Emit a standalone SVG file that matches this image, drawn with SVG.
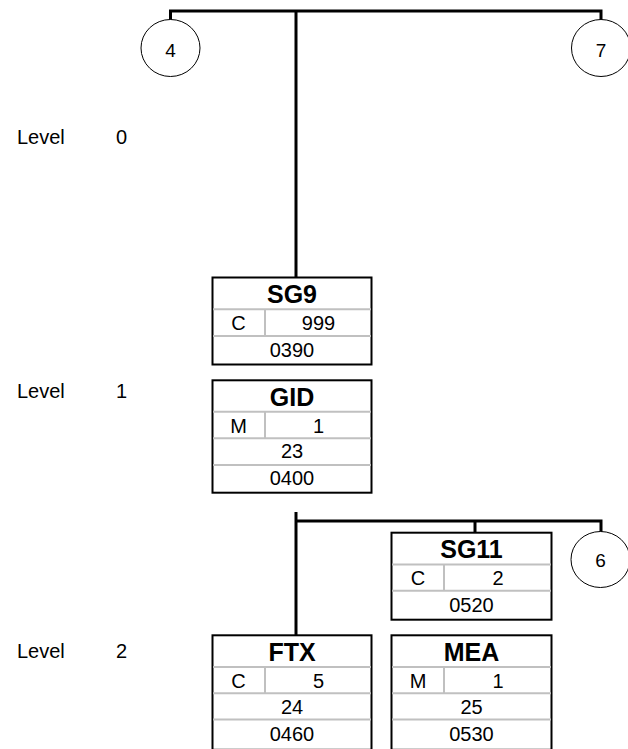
<svg xmlns="http://www.w3.org/2000/svg" width="628" height="749" viewBox="0 0 628 749">
<style>
text{font-family:"Liberation Sans",Arial,sans-serif;font-size:20px;fill:#000}
.h{font-weight:bold;font-size:25px;text-anchor:middle}
.c{text-anchor:middle}
.box{fill:#fff;stroke:#000;stroke-width:2}
.div{stroke:#c0c0c0;stroke-width:2;fill:none}
.conn{stroke:#000;stroke-width:3;fill:none}
.circ{fill:#fff;stroke:#000;stroke-width:1}
.lvl{font-size:20px}
.ct{font-size:19px;text-anchor:middle}
</style>
<g id="levels">
<text class="lvl" x="17" y="144">Level</text><text class="lvl" x="116" y="144">0</text>
<text class="lvl" x="17" y="398">Level</text><text class="lvl" x="116" y="398">1</text>
<text class="lvl" x="17" y="658">Level</text><text class="lvl" x="116" y="658">2</text>
</g>
<g id="connectors">
<polyline class="conn" points="170.5,20 170.5,11 601,11 601,20"/>
<line class="conn" x1="296" y1="11" x2="296" y2="277"/>
<line class="conn" x1="296" y1="512" x2="296" y2="635"/>
<polyline class="conn" points="296,521 601,521 601,532"/>
<line class="conn" x1="475" y1="521" x2="475" y2="532"/>
</g>
<g id="c4"><ellipse class="circ" cx="170.5" cy="48" rx="29.5" ry="28.5"/><text class="ct" x="170.5" y="56.5">4</text></g>
<g id="c7"><ellipse class="circ" cx="601" cy="48" rx="29.5" ry="28.5"/><text class="ct" x="601" y="56.5">7</text></g>
<g id="c6"><ellipse class="circ" cx="600.5" cy="559.5" rx="29.5" ry="28"/><text class="ct" x="600.5" y="566.5">6</text></g>
<g id="SG9">
<rect class="box" x="212.5" y="277.5" width="159" height="87"/>
<line class="div" x1="213" y1="309.3" x2="371" y2="309.3"/>
<line class="div" x1="213" y1="336" x2="371" y2="336"/>
<line class="div" x1="265" y1="309.3" x2="265" y2="336"/>
<text class="h" x="292" y="302.5">SG9</text>
<text class="c" x="238.5" y="330.3">C</text>
<text class="c" x="318.5" y="330.3">999</text>
<text class="c" x="292" y="357">0390</text>
</g>
<g id="GID">
<rect class="box" x="212.5" y="380.3" width="159" height="112.4"/>
<line class="div" x1="213" y1="411.7" x2="371" y2="411.7"/>
<line class="div" x1="213" y1="438.3" x2="371" y2="438.3"/>
<line class="div" x1="213" y1="465" x2="371" y2="465"/>
<line class="div" x1="265" y1="411.7" x2="265" y2="438.3"/>
<text class="h" x="292" y="405.5">GID</text>
<text class="c" x="238.5" y="432.5">M</text>
<text class="c" x="318.5" y="432.5">1</text>
<text class="c" x="292" y="458">23</text>
<text class="c" x="292" y="484.5">0400</text>
</g>
<g id="SG11">
<rect class="box" x="391.5" y="532.7" width="160" height="87"/>
<line class="div" x1="392" y1="564.5" x2="551" y2="564.5"/>
<line class="div" x1="392" y1="590.8" x2="551" y2="590.8"/>
<line class="div" x1="444" y1="564.5" x2="444" y2="590.8"/>
<text class="h" x="471.5" y="558">SG11</text>
<text class="c" x="418" y="585.3">C</text>
<text class="c" x="498" y="585.3">2</text>
<text class="c" x="471.5" y="611.5">0520</text>
</g>
<g id="FTX">
<rect class="box" x="212.5" y="635.3" width="159" height="114.5"/>
<line class="div" x1="213" y1="667" x2="371" y2="667"/>
<line class="div" x1="213" y1="693.3" x2="371" y2="693.3"/>
<line class="div" x1="213" y1="719.5" x2="371" y2="719.5"/>
<line class="div" x1="265" y1="667" x2="265" y2="693.3"/>
<text class="h" x="292" y="660.5">FTX</text>
<text class="c" x="238.5" y="688">C</text>
<text class="c" x="318.5" y="688">5</text>
<text class="c" x="292" y="714">24</text>
<text class="c" x="292" y="740.5">0460</text>
</g>
<g id="MEA">
<rect class="box" x="391.5" y="635.3" width="160" height="114.5"/>
<line class="div" x1="392" y1="667" x2="551" y2="667"/>
<line class="div" x1="392" y1="693.3" x2="551" y2="693.3"/>
<line class="div" x1="392" y1="719.5" x2="551" y2="719.5"/>
<line class="div" x1="444" y1="667" x2="444" y2="693.3"/>
<text class="h" x="471.5" y="660.5">MEA</text>
<text class="c" x="418" y="688">M</text>
<text class="c" x="498" y="688">1</text>
<text class="c" x="471.5" y="714">25</text>
<text class="c" x="471.5" y="740.5">0530</text>
</g>
</svg>
